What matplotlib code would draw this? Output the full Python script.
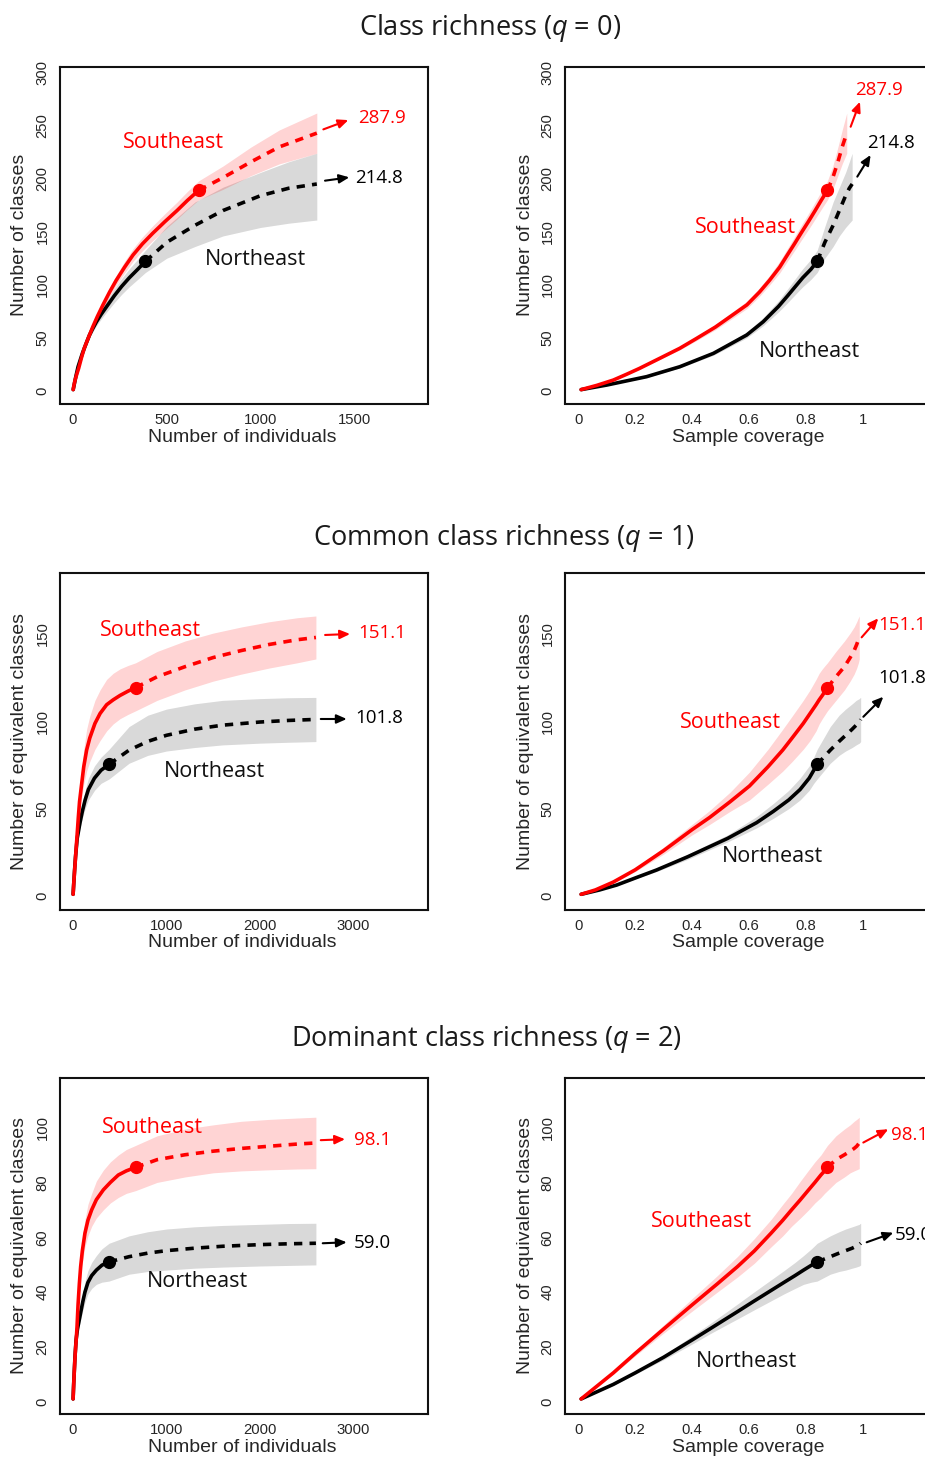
import matplotlib
matplotlib.use("Agg")
import matplotlib.pyplot as plt
from matplotlib.text import OffsetFrom

# ---------------- data ----------------
SE_N = 670          # reference sample size, Southeast
NE_N = 386          # reference sample size, Northeast

# q = 0  (class richness)
se_m0 = [1, 5, 11, 20, 30, 45, 60, 80, 105, 130, 160, 195, 230, 275, 320, 370, 425, 490, 555, 610,
         670, 800, 950, 1100, 1300]
se_s0 = [1, 5, 10, 15.5, 21, 31, 40, 49, 60, 70, 81, 93, 104, 116.5, 128, 138.5, 148.5, 159.5, 170, 179.5,
         189, 201, 216, 230, 243]
se_lo0 = [1, 4.9, 9.6, 15, 20.2, 30, 38.5, 47, 57.5, 67, 77.5, 89, 99.5, 111, 122, 132, 141.5, 152, 162, 171,
          180, 190, 203, 214, 224]
se_hi0 = [1, 5.1, 10.4, 16, 21.8, 32, 41.5, 51, 62.5, 73, 84.5, 97, 108.5, 122, 134, 145, 155.5, 167, 178, 188,
          198, 212, 230, 246, 262]
se_c0 = [0.01, 0.065, 0.123, 0.17, 0.215, 0.29, 0.357, 0.414, 0.482, 0.535, 0.593, 0.637, 0.672, 0.708,
         0.735, 0.76, 0.783, 0.809, 0.833, 0.854, 0.876, 0.895, 0.913, 0.928, 0.944]

ne_m0 = [1, 6, 15, 27, 50, 70, 88, 105, 125, 150, 180, 220, 260, 300, 345, 386, 500, 650, 800, 1000,
         1150, 1300]
ne_s0 = [1, 5.3, 13.2, 22.6, 35.2, 44.5, 52.5, 58.5, 65, 72, 79.5, 89.5, 98.5, 106.5, 114.5, 122, 140, 156,
         170, 184, 191, 195]
ne_lo0 = [1, 5, 12.5, 21.5, 33.4, 42.2, 49.8, 55.3, 61.3, 67.5, 74.3, 83, 91, 98, 105, 111.5, 125, 136,
          146, 154, 158, 161]
ne_hi0 = [1, 5.6, 13.9, 23.7, 37, 46.8, 55.2, 61.8, 68.8, 76.5, 84.8, 96, 106, 115, 124, 132.5, 155, 178,
          192, 206, 216, 224]
ne_c0 = [0.01, 0.10, 0.24, 0.357, 0.475, 0.538, 0.592, 0.62, 0.65, 0.676, 0.704, 0.736, 0.764, 0.789,
         0.818, 0.84, 0.867, 0.896, 0.918, 0.94, 0.953, 0.963]

# q = 1  (common class richness)
se_m1 = [1, 4, 9, 18, 32, 48, 57, 70, 90, 115, 146, 180, 235, 290, 360, 430, 503, 590, 670, 900,
         1200, 1500, 1800, 2100, 2400, 2600]
se_s1 = [1, 3.5, 8, 15, 26, 38, 45, 54, 63, 74, 83.6, 90.5, 98.8, 104.5, 109.5, 112.3, 114.8, 117.3, 119.3,
         125.5, 131.3, 136.5, 140.5, 144, 146.7, 148]
se_lo1 = [1, 3.3, 7.5, 14, 24, 35, 41, 48.5, 55, 64, 71.5, 77, 84, 89, 94.5, 98.5, 101.5, 104, 106,
          112, 118, 123, 127, 130.5, 133.5, 135.7]
se_hi1 = [1, 3.7, 8.5, 16, 28, 41, 49, 59.5, 71, 84, 95.5, 103, 112, 118, 124, 127.5, 130, 132, 133.5,
          140, 146, 150.5, 154, 157, 159.3, 160.3]
se_c1 = [0.01, 0.06, 0.123, 0.2, 0.3, 0.4, 0.462, 0.534, 0.602, 0.667, 0.719, 0.752, 0.791, 0.815, 0.836,
         0.847, 0.858, 0.868, 0.876, 0.906, 0.936, 0.956, 0.970, 0.979, 0.985, 0.988]

ne_m1 = [1, 4, 7, 12, 17, 27, 45, 75, 100, 130, 165, 230, 300, 386, 600, 800, 1000, 1300, 1600, 2000,
         2300, 2600]
ne_s1 = [1, 3.5, 6.3, 10.5, 14.9, 22.5, 33, 42, 48.5, 55, 61, 67.5, 72, 75.4, 83.5, 88.5, 92, 95.5, 97.8,
         99.6, 100.5, 101.1]
ne_lo1 = [1, 3.3, 6, 10, 14, 21, 31, 39, 44.5, 50, 55, 60.5, 64.5, 67, 76, 80.5, 83, 85, 86.5, 87.5, 88,
          88.4]
ne_hi1 = [1, 3.7, 6.6, 11, 15.8, 24, 35, 45.5, 53, 60.5, 67.5, 74.5, 79.5, 84, 97, 103.5, 107, 110, 112,
          113, 113.5, 113.7]
ne_c1 = [0.01, 0.075, 0.135, 0.203, 0.275, 0.385, 0.525, 0.627, 0.686, 0.74, 0.78, 0.812, 0.828, 0.84,
         0.886, 0.917, 0.94, 0.963, 0.977, 0.988, 0.991, 0.993]

# q = 2  (dominant class richness)
se_m2 = [1, 13, 24, 42, 54, 68, 82, 100, 128, 160, 200, 250, 325, 400, 485, 570, 670, 900, 1200, 1500,
         1800, 2100, 2400, 2600]
se_s2 = [1, 10.5, 17.6, 26.5, 35.3, 43, 49.3, 55, 61.5, 66.2, 70, 73.7, 77.3, 80, 82.7, 84.2, 85.5, 88.3,
         90.1, 91.4, 92.4, 93.2, 94, 94.4]
se_lo2 = [1, 10, 16.7, 25, 33, 40, 45.5, 50.5, 56.5, 60.5, 64, 67, 70, 72.5, 74.5, 76, 77, 80, 82, 83.5,
          84.2, 84.6, 84.9, 85]
se_hi2 = [1, 11, 18.5, 28, 37.6, 46, 53, 59.5, 66.5, 72, 76, 80.5, 84.5, 87.5, 90, 92, 93.5, 97, 99.5, 101,
          102.3, 103, 103.5, 103.8]
se_c2 = [0.01, 0.123, 0.2, 0.3, 0.4, 0.489, 0.56, 0.619, 0.678, 0.719, 0.75, 0.781, 0.81, 0.832, 0.853,
         0.866, 0.876, 0.906, 0.936, 0.956, 0.970, 0.979, 0.985, 0.988]

ne_m2 = [1, 7, 13, 21, 33, 48, 65, 85, 105, 128, 160, 200, 250, 310, 386, 600, 800, 1000, 1300, 1600,
         2000, 2300, 2600]
ne_s2 = [1, 6.3, 10.5, 16.2, 22.5, 26.5, 29.5, 33, 36.5, 40, 43.5, 46, 48, 49.8, 51, 52.9, 54.2, 55.1, 56,
         56.7, 57.3, 57.6, 57.8]
ne_lo2 = [1, 6, 10, 15.3, 21, 24.7, 27.3, 30.3, 33.3, 36.3, 39.3, 41.3, 42.8, 43.6, 44, 46.5, 47.5, 48,
          48.7, 49.1, 49.5, 49.7, 49.9]
ne_hi2 = [1, 6.6, 11, 17, 24, 28.4, 31.8, 35.8, 39.8, 43.8, 47.8, 50.8, 53.3, 55.8, 57.8, 60.5, 62, 63,
          63.8, 64.3, 64.7, 65, 65.1]
ne_c2 = [0.01, 0.123, 0.2, 0.3, 0.4, 0.462, 0.508, 0.562, 0.615, 0.669, 0.723, 0.762, 0.792, 0.82, 0.84,
         0.886, 0.917, 0.94, 0.963, 0.977, 0.988, 0.991, 0.993]

se_asym = ["287.9", "151.1", "98.1"]
ne_asym = ["214.8", "101.8", "59.0"]
row_titles = ["Class richness ($q$ = 0)", "Common class richness ($q$ = 1)",
              "Dominant class richness ($q$ = 2)"]
y_labels = ["Number of classes", "Number of equivalent classes", "Number of equivalent classes"]
left_xticks = [[0, 500, 1000, 1500], [0, 1000, 2000, 3000], [0, 1000, 2000, 3000]]
yticks_rows = [[0, 50, 100, 150, 200, 250, 300], [0, 50, 100, 150], [0, 20, 40, 60, 80, 100]]
cov_ticks = [0, 0.2, 0.4, 0.6, 0.8, 1.0]
cov_ticklabels = ["0", "0.2", "0.4", "0.6", "0.8", "1"]

# ---------------- style / layout ----------------
W, H = 925, 1458
RED = "#FF0000"
BLK = "#000000"
TXT = "#262626"
plt.rcParams["font.family"] = ["Liberation Sans", "DejaVu Sans"]
plt.rcParams["mathtext.fontset"] = "custom"
plt.rcParams["mathtext.rm"] = "Open Sans"
plt.rcParams["mathtext.it"] = "Open Sans:italic"
CAL = ["Open Sans", "DejaVu Sans"]

fig = plt.figure(figsize=(W / 100, H / 100), dpi=100)

row_box = [(67, 403.5), (573, 909.5), (1078, 1414)]
row_ylim = [(-12.1, 305.4), (-7.7, 184.9), (-4.5, 118.1)]
left_xlim = [(-69.3, 1892.8), (-139.1, 3799.6), (-139.1, 3799.6)]
cov_xlim = (-0.0468, 1.30)
title_xy = [(490, 35), (504, 545), (486, 1046)]
xlabel_y = [437.5, 942.5, 1448]

# names: (cx, baseline) for SE and NE in left / right panels (figure pixels)
name_pos = [
    {"L": ((173.3, 148.3), (255, 265)), "R": ((745.8, 232.7), (809.2, 357.3))},
    {"L": ((150.8, 636), (214, 776.7)), "R": ((730.8, 728.3), (772, 861.7))},
    {"L": ((152, 1132.7), (197.5, 1286.7)), "R": ((701, 1227.3), (746, 1367.3))},
]
# asymptote annotations: offsets in points from the curve end (arrow tail, arrow tip, text)
asym_off = [
    {"L": (((4.7, 2.7), (22.7, 9.4), (29.9, 7.1)), ((5.9, 2.4), (23.4, 4.8), (27.5, 0.5))),
     "R": (((2.8, 4.6), (9.5, 22.6), (5.9, 27.4)), ((3.7, 5.3), (13.3, 20.9), (10.9, 25.7)))},
    {"L": (((6.6, 1.8), (24.6, 2.5), (30.5, -0.4)), ((3.5, 0.3), (22.2, 0.3), (28.2, -2.8))),
     "R": (((1.7, 0.1), (13.7, 13.8), (13.7, 5.4)), ((1.9, 1.9), (16.3, 16.3), (12.7, 26)))},
    {"L": (((3.5, 2.0), (21, 2.7), (27.4, -1.4)), ((4.9, 0), (22.2, 0.7), (27.4, -3.6))),
     "R": (((2.9, 0.3), (20.9, 9.9), (22.6, 2.2)), ((4.3, 0.7), (23.5, 7.6), (24.7, 2.4)))},
]

rows = [
    (se_m0, se_s0, se_lo0, se_hi0, se_c0, ne_m0, ne_s0, ne_lo0, ne_hi0, ne_c0),
    (se_m1, se_s1, se_lo1, se_hi1, se_c1, ne_m1, ne_s1, ne_lo1, ne_hi1, ne_c1),
    (se_m2, se_s2, se_lo2, se_hi2, se_c2, ne_m2, ne_s2, ne_lo2, ne_hi2, ne_c2),
]


def add_axes_px(l, t, r, b):
    return fig.add_axes([l / W, 1 - b / H, (r - l) / W, (b - t) / H])


def draw_line(ax, x, s, ref_i, color):
    ax.plot(x[:ref_i + 1], s[:ref_i + 1], color=color, lw=2.6, solid_capstyle="round",
            solid_joinstyle="round", zorder=3)
    ax.plot(x[ref_i:], s[ref_i:], color=color, lw=2.6, ls=(0, (2.3, 2.0)), zorder=3)
    ax.plot([x[ref_i]], [s[ref_i]], "o", ms=8.5, color=color, zorder=4)


def add_asym(ax, xe, ye, label, color, offs):
    tail, tip, txt = offs
    ref = OffsetFrom(ax.transData, (xe, ye), unit="points")
    ax.annotate("", xy=tip, xycoords=ref, xytext=tail, textcoords=ref,
                arrowprops=dict(arrowstyle="-|>,head_length=0.5,head_width=0.22",
                                color=color, lw=1.5, shrinkA=0, shrinkB=0,
                                mutation_scale=12), zorder=5)
    ax.annotate(label, xy=txt, xycoords=ref, ha="left", va="baseline",
                color=color, fontsize=13.5, family=CAL, annotation_clip=False)


def style_axes(ax, lr, box, ylim, yticks, xlim, xticks, xticklabels, xlabel, ylabel,
               xlab_px, ylab_px):
    ax.set_ylim(*ylim)
    ax.set_xlim(*xlim)
    ax.set_yticks(yticks)
    ax.set_xticks(xticks)
    ax.set_xticklabels(xticklabels)
    ax.set_yticklabels([str(v) for v in yticks], rotation=90, va="center")
    ax.tick_params(axis="both", length=0, labelsize=10.7, colors=TXT)
    ax.tick_params(axis="x", pad=6.7)
    ax.tick_params(axis="y", pad=7.5)
    for sp in ax.spines.values():
        sp.set_linewidth(1.5)
        sp.set_color("#111111")
    ax.set_xlabel(xlabel, fontsize=14, color=TXT, va="center")
    ax.set_ylabel(ylabel, fontsize=14, color=TXT, va="center")
    t, b = box
    l, r = lr
    ax.xaxis.set_label_coords((xlab_px[0] - l) / (r - l), (b - xlab_px[1]) / (b - t))
    ax.yaxis.set_label_coords((ylab_px[0] - l) / (r - l), (b - ylab_px[1]) / (b - t))


for k in range(3):
    t, b = row_box[k]
    se_m, se_s, se_lo, se_hi, se_c, ne_m, ne_s, ne_lo, ne_hi, ne_c = rows[k]
    i_se = se_m.index(SE_N)
    i_ne = ne_m.index(NE_N)
    ymid = (t + b) / 2

    axL = add_axes_px(60, t, 428, b)
    axR = add_axes_px(565, t, 948, b)

    for ax, xse, xne, side in ((axL, se_m, ne_m, "L"), (axR, se_c, ne_c, "R")):
        ax.fill_between(xne, ne_lo, ne_hi, color="black", alpha=0.15, lw=0, zorder=1)
        ax.fill_between(xse, se_lo, se_hi, color=RED, alpha=0.17, lw=0, zorder=1)
        draw_line(ax, xne, ne_s, i_ne, BLK)
        draw_line(ax, xse, se_s, i_se, RED)
        offs_se, offs_ne = asym_off[k][side]
        add_asym(ax, xse[-1], se_s[-1], se_asym[k], RED, offs_se)
        add_asym(ax, xne[-1], ne_s[-1], ne_asym[k], BLK, offs_ne)
        (sx, sy), (nx, ny) = name_pos[k][side]
        fig.text(sx / W, 1 - sy / H, "Southeast", color=RED, fontsize=15.5, family=CAL,
                 ha="center", va="baseline")
        fig.text(nx / W, 1 - ny / H, "Northeast", color="#111111", fontsize=15.5, family=CAL,
                 ha="center", va="baseline")

    style_axes(axL, (60, 428), (t, b), row_ylim[k], yticks_rows[k], left_xlim[k], left_xticks[k],
               [str(v) for v in left_xticks[k]], "Number of individuals", y_labels[k],
               (242.5, xlabel_y[k]), (20, ymid))
    style_axes(axR, (565, 948), (t, b), row_ylim[k], yticks_rows[k], cov_xlim, cov_ticks,
               cov_ticklabels, "Sample coverage", y_labels[k], (748.3, xlabel_y[k]), (525.5, ymid))

    tx, ty = title_xy[k]
    fig.text(tx / W, 1 - ty / H, row_titles[k], fontsize=19.5, family=CAL, color="#1a1a1a",
             ha="center", va="baseline")

fig.savefig("out.png", dpi=100)
